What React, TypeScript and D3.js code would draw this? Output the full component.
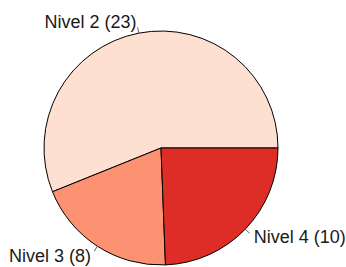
import React, { useEffect, useRef } from "react";
import * as d3 from "d3";

const labels = ["Nivel 2", "Nivel 3", "Nivel 4"];
const counts = [23, 8, 10];
const colors = ["#FEE0D2", "#FC9272", "#DE2D26"];

var width = 346, height = 267;
var cx = 161, cy = 148, radius = 117;

function App() {
    const ref = useRef<SVGSVGElement>(null);

    useEffect(() => {
        chart();
    }, []);

    return (
        <svg ref={ref} width={width} height={height}
            style={{ position: "absolute", left: 0, top: 0, background: "#fff" }}></svg>
    );

    function chart() {
        var svg = d3.select(ref.current);
        svg.selectAll("*").remove();
        var g = svg.append("g").attr("transform", `translate(${cx},${cy})`);

        // R style: counter-clockwise, starting at 3 o'clock
        var pie = d3.pie<number>()
            .sort(null)
            .startAngle(Math.PI / 2)
            .endAngle(Math.PI / 2 - 2 * Math.PI);
        var arcs = pie(counts);
        var arc = d3.arc<d3.PieArcDatum<number>>().innerRadius(0).outerRadius(radius);

        g.selectAll("path.slice")
            .data(arcs)
            .enter()
            .append("path")
            .attr("class", "slice")
            .attr("d", arc)
            .attr("fill", (d, i) => colors[i])
            .attr("stroke", "#000")
            .attr("stroke-width", 1)
            .attr("stroke-linejoin", "round");

        arcs.forEach((d, i) => {
            var a = (d.startAngle + d.endAngle) / 2;
            var sx = Math.sin(a), sy = -Math.cos(a);
            g.append("line")
                .attr("x1", sx * radius).attr("y1", sy * radius)
                .attr("x2", sx * radius * 1.05).attr("y2", sy * radius * 1.05)
                .attr("stroke", "#555")
                .attr("stroke-width", 1);
            g.append("text")
                .attr("x", sx * radius * 1.1)
                .attr("y", sy * radius * 1.1)
                .attr("text-anchor", sx < 0 ? "end" : "start")
                .attr("dominant-baseline", "central")
                .style("font-family", "'Liberation Sans', Arial, sans-serif")
                .style("font-size", "18px")
                .attr("fill", "#1a1a1a")
                .text(`${labels[i]} (${counts[i]})`);
        });
    }
}

export default App;
